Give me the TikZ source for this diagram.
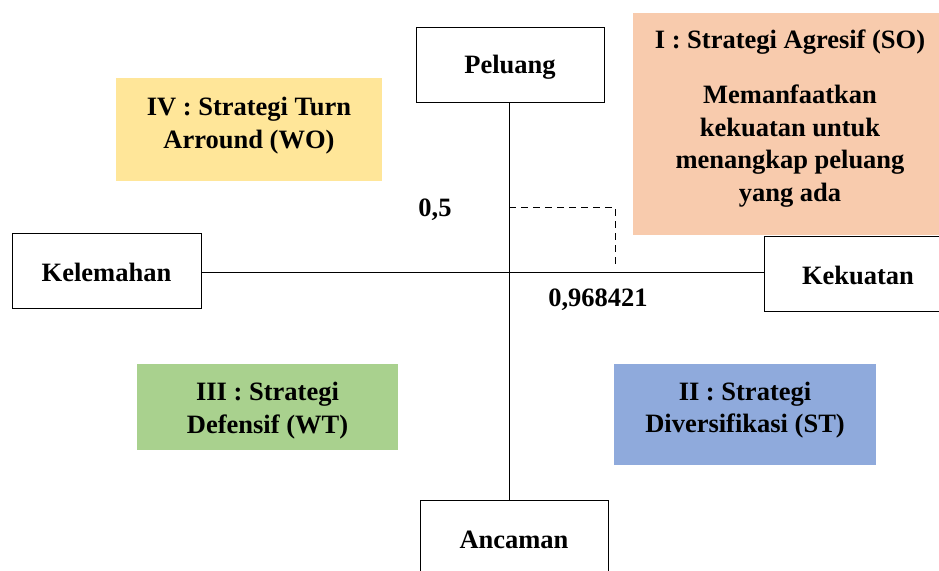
\documentclass[tikz,border=0pt]{standalone}
\usepackage{fontspec}
\setmainfont{Liberation Serif}
\begin{document}
\begin{tikzpicture}[x=1pt,y=-1pt,
  lbl/.style={draw=black, line width=1pt, fill=white, inner sep=0pt},
  quadfill/.style={draw=none, inner sep=0pt},
  quad/.style={draw=none, inner sep=0pt, font=\bfseries\fontsize{26.5}{32.7}\selectfont, align=center},
  num/.style={font=\bfseries\fontsize{26.5}{32}\selectfont, inner sep=0pt},
  axis/.style={line width=1pt}]
\useasboundingbox (0,0) rectangle (939,570);
\begin{scope}
\clip (0,0) rectangle (939,570);
% quadrant boxes
\node[quadfill, fill={rgb,255:red,248;green,203;blue,173}, minimum width=310pt, minimum height=222pt, anchor=north west] (so) at (633,13) {};
\node[quad] (sot) at (790,42) {I : Strategi Agresif (SO)};
\node[quad] (sod) at (790,146) {Memanfaatkan\\kekuatan untuk\\menangkap peluang\\yang ada};
\node[quadfill, fill={rgb,255:red,255;green,230;blue,153}, minimum width=266pt, minimum height=103pt] (wo) at (249,129.5) {};
\node[quad] (wot) at (249,125.5) {IV : Strategi Turn\\Arround (WO)};
\node[quadfill, fill={rgb,255:red,169;green,209;blue,142}, minimum width=261pt, minimum height=86pt] (wt) at (267.5,407) {};
\node[quad] (wtt) at (267.5,410.5) {III : Strategi\\Defensif (WT)};
\node[quadfill, fill={rgb,255:red,143;green,170;blue,220}, minimum width=262pt, minimum height=101pt] (st) at (745,414.5) {};
\node[quad] (stt) at (745,410) {II : Strategi\\Diversifikasi (ST)};
% label boxes
\node[lbl, minimum width=188pt, minimum height=75pt] (pel) at (510,64.5) {};
\node[num] (pelt) at (510,67.5) {Peluang};
\node[lbl, minimum width=188pt, minimum height=76pt] (anc) at (514,538) {};
\node[num] (anct) at (514,540) {Ancaman};
\node[lbl, minimum width=189pt, minimum height=75pt] (kel) at (106.5,270.5) {};
\node[num] (kelt) at (106.5,272.5) {Kelemahan};
\node[lbl, minimum width=190pt, minimum height=75pt, anchor=west] (kek) at (764,273.5) {};
\node[num] (kekt) at (858,275) {Kekuatan};
% axes
\coordinate (vb) at (509,500);
\draw[axis] (pel.south -| vb) -- (vb);
\draw[axis] (kel.east |- 0,272) -- (kek.west |- 0,272);
% dashed marker
\coordinate (d1) at (509,207);
\coordinate (d2) at (615,207);
\coordinate (d3) at (615,268);
\draw[dashed, line width=1pt, dash pattern=on 7pt off 5pt] (d1) -- (d2) -- (d3);
\node[num] (y05) at (435,210) {0,5};
\node[num] (x09) at (598,300) {0,968421};
\end{scope}
\end{tikzpicture}
\end{document}
